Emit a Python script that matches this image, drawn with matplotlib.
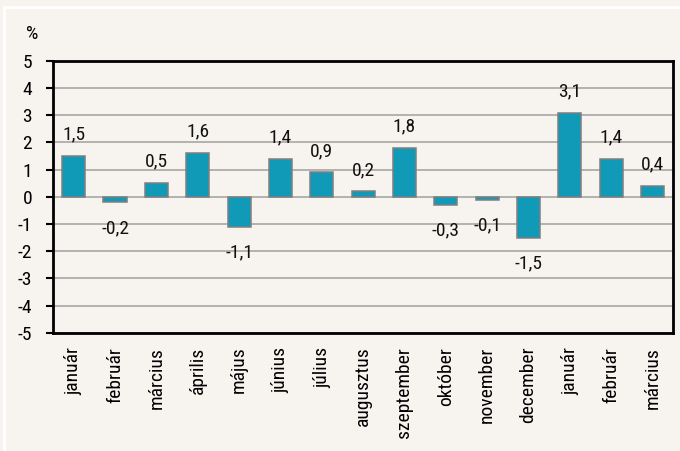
import matplotlib.pyplot as plt
import matplotlib.lines as mlines
from matplotlib import font_manager

months = ['január', 'február', 'március', 'április', 'május', 'június', 'július',
          'augusztus', 'szeptember', 'október', 'november', 'december',
          'január', 'február', 'március']
values = [1.5, -0.2, 0.5, 1.6, -1.1, 1.4, 0.9, 0.2, 1.8, -0.3, -0.1, -1.5, 3.1, 1.4, 0.4]
value_labels = ['1,5', '-0,2', '0,5', '1,6', '-1,1', '1,4', '0,9', '0,2', '1,8',
                '-0,3', '-0,1', '-1,5', '3,1', '1,4', '0,4']
yticks = [-5, -4, -3, -2, -1, 0, 1, 2, 3, 4, 5]

# pick a narrow font if one is around
names = {f.name for f in font_manager.fontManager.ttflist}
narrow = [n for n in ['Liberation Sans Narrow', 'Roboto Condensed', 'Open Sans Condensed',
                      'DejaVu Sans Condensed'] if n in names]
plt.rcParams['font.family'] = narrow + ['DejaVu Sans']
plt.rcParams['font.stretch'] = 'condensed'
bg = '#f7f4f0'

fig = plt.figure(figsize=(6.8, 4.51), dpi=100, facecolor=bg)
ax = fig.add_axes([0.078, 0.262, 0.912, 0.603])
ax.set_facecolor(bg)

# white frame lines at the left and top of the figure
fig.add_artist(mlines.Line2D([4 / 680, 4 / 680], [0, 1 - 7 / 451], color='white', lw=2,
                             transform=fig.transFigure))
fig.add_artist(mlines.Line2D([4 / 680, 1], [1 - 7 / 451, 1 - 7 / 451], color='white', lw=2,
                             transform=fig.transFigure))

x = list(range(len(months)))
ax.bar(x, values, width=0.56, color='#109ab8', edgecolor='#7f7f7f', linewidth=1.1, zorder=3)

for xi, v, lab in zip(x, values, value_labels):
    if v >= 0:
        ax.annotate(lab, (xi, v), xytext=(0, 9), textcoords='offset points',
                    ha='center', va='bottom', fontsize=14, color='#111111')
    else:
        ax.annotate(lab, (xi, v), xytext=(0, -12), textcoords='offset points',
                    ha='center', va='top', fontsize=14, color='#111111')

ax.set_xlim(-0.5, len(months) - 0.5)
ax.set_ylim(-5, 5)
ax.set_yticks(yticks)
ax.set_yticklabels([str(t) for t in yticks], fontsize=14)
ax.yaxis.grid(True, color='#a6a6a6', lw=1.2, zorder=0)
ax.set_axisbelow(True)

ax.set_xticks(x)
ax.set_xticklabels(months, rotation=90, fontsize=14)
ax.tick_params(axis='x', length=0, pad=10)
ax.tick_params(axis='y', length=5, width=1.5, direction='out', pad=10)

for side in ['left', 'bottom', 'top', 'right']:
    ax.spines[side].set_linewidth(2)
    ax.spines[side].set_color('black')

fig.text(38 / 680, 1 - 43 / 451, '%', fontsize=14, ha='right', va='bottom')

fig.savefig('out.png', dpi=100, facecolor=bg)
